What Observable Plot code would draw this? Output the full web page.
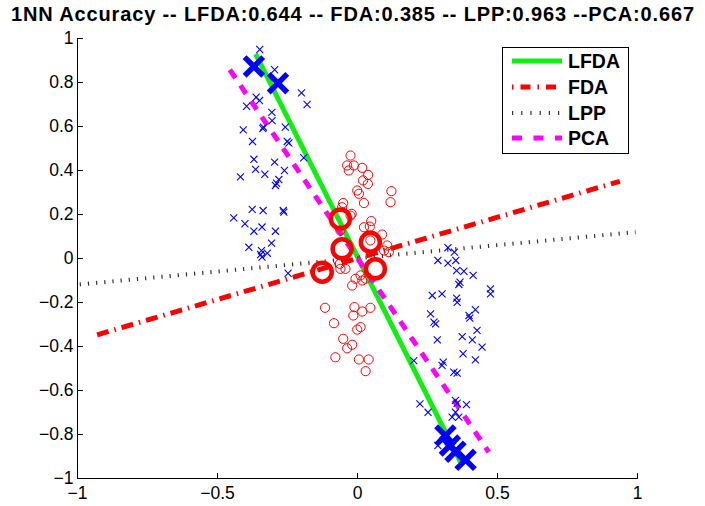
<!DOCTYPE html>
<html><head><meta charset="utf-8">
<script src="https://cdn.jsdelivr.net/npm/d3@7"></script>
<script src="https://cdn.jsdelivr.net/npm/@observablehq/plot@0.6"></script>
<style>
body{margin:0;background:#fff;font-family:"Liberation Sans",Arial,sans-serif;}
#wrap{position:relative;width:705px;height:506px;overflow:hidden;}
#title{display:block;}
#legend{position:absolute;left:0;top:0;pointer-events:none;}
</style></head><body>
<div id="wrap"><svg id="title" width="705" height="30"></svg><div id="chart"></div><svg id="legend" width="705" height="506"></svg></div>
<script>
const titleText = "1NN Accuracy -- LFDA:0.644 -- FDA:0.385 -- LPP:0.963 --PCA:0.667";
const xTicks = [-1, -0.5, 0, 0.5, 1];
const yTicks = [-1, -0.8, -0.6, -0.4, -0.2, 0, 0.2, 0.4, 0.6, 0.8, 1];
const legendNames = ["LFDA", "FDA", "LPP", "PCA"];

// projection directions (segment endpoints)
const lfdaX = [-0.364, 0.368], lfdaY = [0.930, -0.926];
const fdaX = [-0.930, 0.937], fdaY = [-0.347, 0.351];
const lppX = [-0.992, 0.993], lppY = [-0.118, 0.120];
const pcaX = [-0.456, 0.469], pcaY = [0.858, -0.880];

// class 1 (blue x)
const class1X = [-0.349,-0.296,-0.200,-0.180,-0.362,-0.350,-0.396,-0.306,-0.305,-0.336,-0.338,-0.258,-0.408,-0.375,-0.251,-0.245,-0.192,-0.370,-0.296,-0.364,-0.261,-0.331,-0.418,-0.281,-0.289,-0.293,-0.376,-0.337,-0.265,-0.263,-0.442,-0.402,-0.341,-0.370,-0.293,-0.307,-0.388,-0.343,-0.346,-0.322,-0.341,-0.248,
 0.323,0.346,0.287,0.323,0.351,0.354,0.380,0.413,0.366,0.362,0.475,0.475,0.267,0.302,0.354,0.356,0.261,0.273,0.279,0.398,0.421,0.401,0.427,0.374,0.410,0.285,0.445,0.377,0.421,0.201,0.306,0.302,0.344,0.356,0.223,0.252,0.350,0.356,0.389,0.350,0.338,0.362,0.287];
const class1Y = [0.950,0.858,0.753,0.700,0.733,0.718,0.692,0.664,0.627,0.597,0.590,0.597,0.585,0.532,0.532,0.525,0.458,0.451,0.438,0.405,0.400,0.383,0.371,0.359,0.342,0.332,0.223,0.218,0.218,0.211,0.185,0.158,0.143,0.124,0.124,0.070,0.051,0.036,0.018,0.024,0.006,-0.067,
 0.049,0.029,-0.009,-0.021,-0.009,-0.055,-0.058,-0.077,-0.108,-0.118,-0.138,-0.161,-0.168,-0.161,-0.180,-0.199,-0.252,-0.289,-0.297,-0.259,-0.233,-0.271,-0.327,-0.355,-0.370,-0.370,-0.403,-0.433,-0.461,-0.464,-0.471,-0.486,-0.517,-0.521,-0.661,-0.699,-0.645,-0.658,-0.664,-0.699,-0.721,-0.721,-0.850];

// class 2 (red o)
const class2X = [-0.025,-0.037,-0.031,-0.013,0.017,0.038,0.020,0.037,-0.001,0.005,0.121,0.118,0.023,-0.051,-0.055,-0.025,0.049,0.044,0.023,0.088,0.046,-0.061,-0.063,0.106,0.095,0.112,-0.061,-0.043,-0.007,0.017,0.011,-0.019,-0.116,-0.011,-0.015,0.017,0.046,-0.084,-0.001,0.011,-0.051,-0.037,-0.019,-0.079,0.005,0.040,0.029,0.029,-0.021];
const class2Y = [0.468,0.423,0.400,0.423,0.412,0.380,0.355,0.339,0.309,0.294,0.306,0.256,0.252,0.252,0.233,0.195,0.170,0.145,0.142,0.109,0.082,0.127,-0.024,0.059,0.036,0.029,-0.047,-0.047,-0.092,-0.100,-0.077,-0.123,-0.224,-0.221,-0.259,-0.241,-0.224,-0.294,-0.323,-0.312,-0.365,-0.408,-0.392,-0.449,-0.459,-0.459,-0.512,-0.092,0.203];

// highlighted samples
const big1X = [-0.370,-0.284,0.314,0.330,0.350,0.386];
const big1Y = [0.873,0.797,-0.805,-0.850,-0.878,-0.915];
const big2X = [-0.061,-0.055,0.046,-0.126,0.064];
const big2Y = [0.180,0.044,0.074,-0.062,-0.047];

const zipXY = (xs, ys) => xs.map((x, i) => ({x, y: ys[i]}));
const lfda = zipXY(lfdaX, lfdaY), fda = zipXY(fdaX, fdaY), lpp = zipXY(lppX, lppY), pca = zipXY(pcaX, pcaY);
const class1 = zipXY(class1X, class1Y), class2 = zipXY(class2X, class2Y);
const big1 = zipXY(big1X, big1Y), big2 = zipXY(big2X, big2Y);

const styles = {
  LFDA: {stroke: "#11ee11", strokeWidth: 5, strokeDasharray: null},
  FDA: {stroke: "#ff0000", strokeWidth: 5, strokeDasharray: "12,6,1.5,6"},
  LPP: {stroke: "#333333", strokeWidth: 4, strokeDasharray: "1.2,7"},
  PCA: {stroke: "#ff00ff", strokeWidth: 5, strokeDasharray: "10,9"}
};

const fmt = d3.format("");
const tickShape = {draw(ctx, l) { ctx.moveTo(0, 0); ctx.lineTo(0, -l); }};
const fontFam = "'Liberation Sans', Arial, Helvetica, sans-serif";

const plot = Plot.plot({
  width: 705, height: 476,
  marginLeft: 77, marginRight: 68, marginTop: 8, marginBottom: 28,
  x: {domain: [-1, 1], label: null},
  y: {domain: [-1, 1], label: null},
  style: {fontFamily: fontFam, fontSize: "17.5px", color: "#000", background: "white", overflow: "visible"},
  marks: [
    Plot.axisX({ticks: xTicks, tickSize: 0, tickPadding: 8, tickFormat: fmt, fontSize: 17.5, label: null}),
    Plot.axisY({ticks: yTicks, tickSize: 0, tickPadding: 4, tickFormat: fmt, fontSize: 17.5, label: null}),
    Plot.line(lfda, {x: "x", y: "y", ...styles.LFDA, strokeLinecap: "butt"}),
    Plot.line(fda, {x: "x", y: "y", ...styles.FDA, strokeLinecap: "butt"}),
    Plot.line(lpp, {x: "x", y: "y", ...styles.LPP, strokeLinecap: "butt"}),
    Plot.line(pca, {x: "x", y: "y", ...styles.PCA, strokeLinecap: "butt"}),
    Plot.dot(class1, {x: "x", y: "y", symbol: "times", r: 3.3, stroke: "#0000ff", strokeWidth: 1.1}),
    Plot.dot(class2, {x: "x", y: "y", symbol: "circle", r: 4.6, stroke: "#ff0000", strokeWidth: 1, fill: "none"}),
    Plot.dot(big1, {x: "x", y: "y", symbol: "times", r: 8.5, stroke: "#0000ff", strokeWidth: 5.5}),
    Plot.dot(big2, {x: "x", y: "y", symbol: "circle", r: 9.5, stroke: "#ff0000", strokeWidth: 4.5, fill: "none"}),
    Plot.ruleY([-1], {stroke: "#000", strokeWidth: 1}),
    Plot.ruleX([-1], {stroke: "#000", strokeWidth: 1}),
    Plot.vector(xTicks, {x: d => d, y: -1, length: 5, rotate: 0, anchor: "start", shape: tickShape, stroke: "#000", strokeWidth: 1}),
    Plot.vector(yTicks, {x: -1, y: d => d, length: 5, rotate: 90, anchor: "start", shape: tickShape, stroke: "#000", strokeWidth: 1})
  ]
});
document.getElementById("chart").appendChild(plot);

// title
const ts = d3.select("#title");
ts.append("text").attr("x", 353).attr("y", 21).attr("text-anchor", "middle")
  .attr("font-family", fontFam).attr("font-weight", "bold").attr("font-size", 20)
  .attr("letter-spacing", "0.85px").text(titleText);

// legend
const lg = d3.select("#legend");
lg.append("rect").attr("x", 502.5).attr("y", 47.5).attr("width", 126).attr("height", 106)
  .attr("fill", "white").attr("stroke", "#000").attr("stroke-width", 1);
const rowY = [61, 87, 113, 138];
legendNames.forEach((name, i) => {
  const s = styles[name];
  lg.append("line").attr("x1", 512).attr("x2", 562).attr("y1", rowY[i]).attr("y2", rowY[i])
    .attr("stroke", s.stroke).attr("stroke-width", s.strokeWidth)
    .attr("stroke-dasharray", name === "FDA" ? "1.5,7,10,7" : name === "PCA" ? "10,11.5" : name === "LPP" ? "1.2,8" : null);
  lg.append("text").attr("x", 568).attr("y", rowY[i] + 7).attr("font-family", fontFam)
    .attr("font-weight", "bold").attr("font-size", 19.5).text(name);
});
</script>
</body></html>
